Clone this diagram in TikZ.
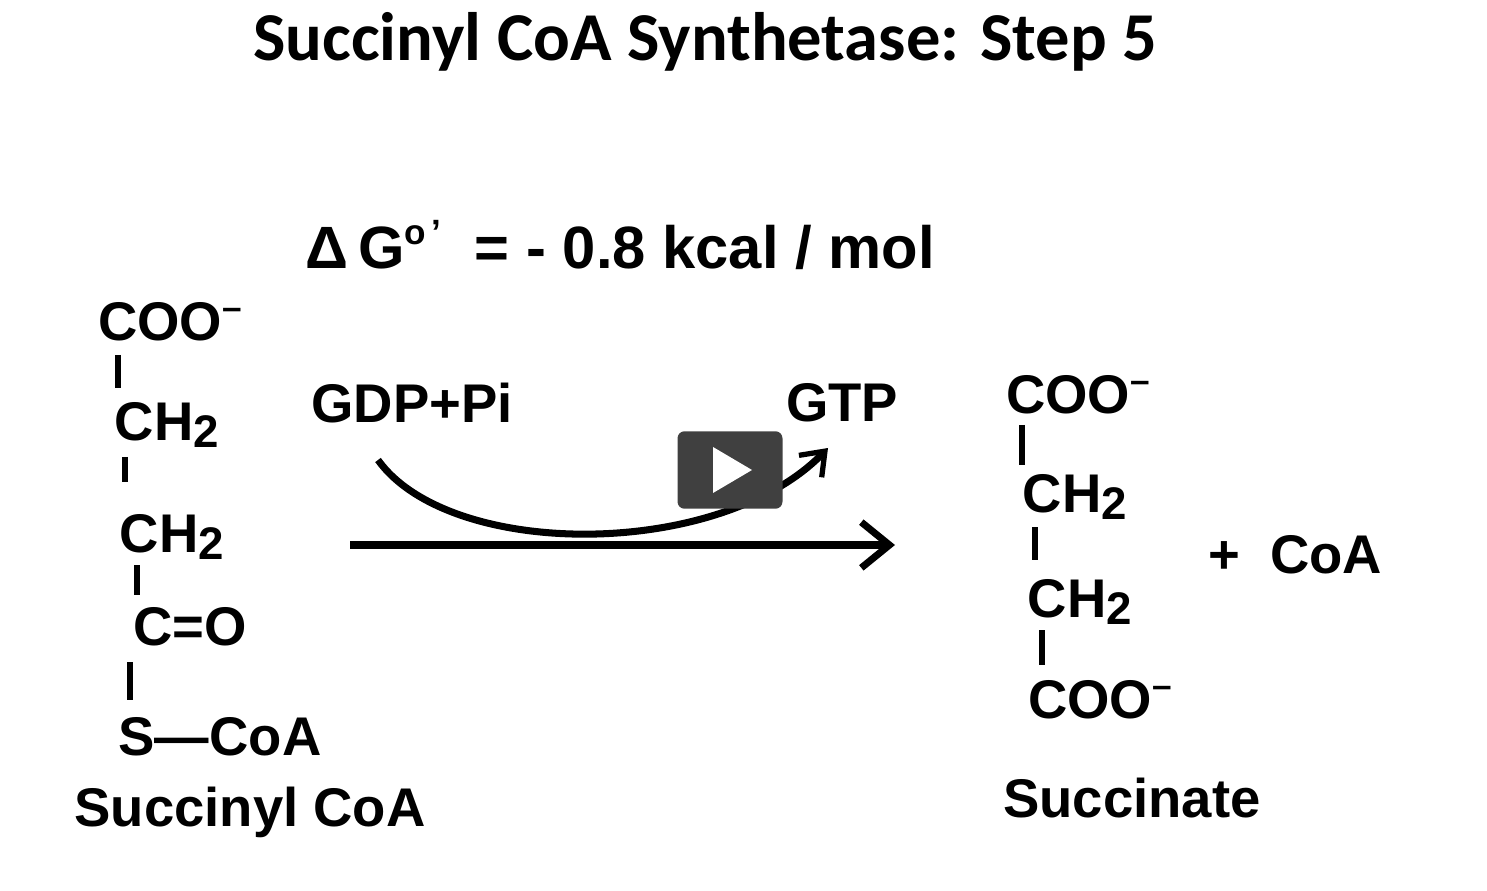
\documentclass[tikz,border=0pt]{standalone}
\usepackage{fontspec}
\setmainfont{Liberation Sans}
\newfontfamily\titlefont{Carlito}
\usetikzlibrary{arrows.meta}
\newcommand{\mysub}[1]{\raisebox{-0.25ex}{\fontsize{26}{26}\selectfont #1}}
\newcommand{\mysup}[1]{\raisebox{0.75ex}{\fontsize{20}{20}\selectfont #1}}
\begin{document}
\begin{tikzpicture}[x=0.02cm,y=-0.02cm,
  chem/.style={font=\fontsize{31}{31}\selectfont\bfseries, inner sep=0pt},
  lbl/.style={font=\fontsize{31}{31}\selectfont\bfseries, inner sep=0pt},
  bond/.style={line width=3.5pt}]
\useasboundingbox (0,0) rectangle (1487,891);
\node[font=\titlefont\fontsize{39}{39}\selectfont\bfseries] (title) at (705,42) {Succinyl CoA Synthetase: Step 5};
\node[chem, font=\fontsize{34}{34}\selectfont\bfseries] (dg) at (620,245) {Δ\,G\mysup{o\,'}\ \ = - 0.8 kcal / mol};
% left
\node[chem] (l1) at (170,322) {COO\mysup{–}};
\node[chem] (l2) at (167,425) {CH\mysub{2}};
\node[chem] (l3) at (172,537) {CH\mysub{2}};
\node[chem] (l4) at (190,627) {C=O};
\node[chem] (l5) at (220,737) {S—CoA};
\node[lbl] (l6) at (250,812) {Succinyl CoA};
\draw[bond] (118,355) -- (118,388);
\draw[bond] (125,457) -- (125,482);
\draw[bond] (137,565) -- (137,595);
\draw[bond] (130,662) -- (130,700);
% reagents
\node[chem] (gdp) at (412,403) {GDP+Pi};
\node[chem] (gtp) at (842,403) {GTP};
\coordinate (a0) at (350,545);
\coordinate (a1) at (895,545);
\draw[line width=5pt,-{Straight Barb[length=16pt,width=26pt,line width=4pt]}] (a0) -- (a1);
\coordinate (c0) at (378,460);
\coordinate (c1) at (828,448);
\draw[line width=4pt,-{Straight Barb[length=12pt,width=18pt,line width=3pt]}] (c0) .. controls (450,560) and (720,560) .. (c1);
% play button
\node[fill=black!75, rounded corners=4pt, minimum width=2.1cm, minimum height=1.55cm] (play) at (730,470) {};
\fill[white] (713,447) -- (713,493) -- (752,470) -- cycle;
% right
\node[chem] (r1) at (1078,395) {COO\mysup{–}};
\node[chem] (r2) at (1075,497) {CH\mysub{2}};
\node[chem] (r3) at (1080,602) {CH\mysub{2}};
\node[chem] (r4) at (1100,700) {COO\mysup{–}};
\node[lbl] (r5) at (1132,798) {Succinate};
\node[chem] (coa) at (1295,555) {+ \ CoA};
\draw[bond] (1022,425) -- (1022,465);
\draw[bond] (1035,527) -- (1035,560);
\draw[bond] (1042,630) -- (1042,665);
\end{tikzpicture}
\end{document}
